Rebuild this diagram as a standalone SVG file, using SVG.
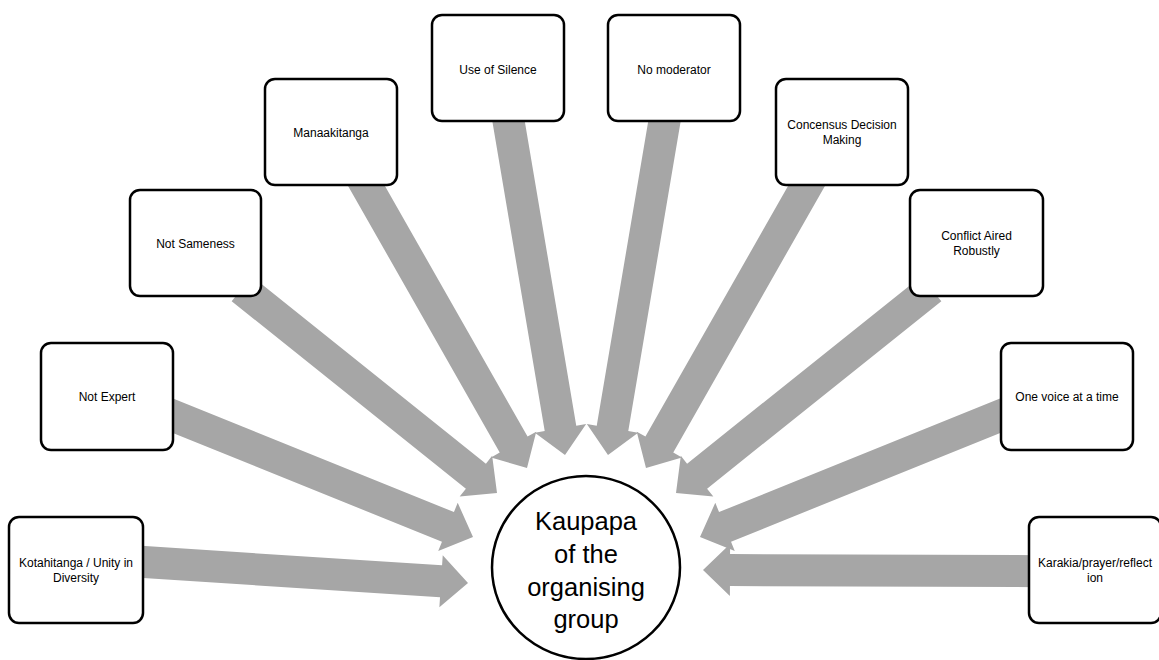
<svg xmlns="http://www.w3.org/2000/svg" width="1159" height="660" viewBox="0 0 1159 660">
<style>
.bg{fill:#ffffff}
.arrow{fill:#A6A6A6;stroke:none}
.box{fill:#ffffff;stroke:#000000;stroke-width:2.5}
.hub{fill:#ffffff;stroke:#000000;stroke-width:2.5}
.lbl{font-family:"Liberation Sans",Arial,sans-serif;font-size:12px;fill:#000000;text-anchor:middle}
.hubtxt{font-family:"Liberation Sans",Arial,sans-serif;font-size:25.5px;fill:#000000;text-anchor:middle}
</style>
<rect class="bg" x="0" y="0" width="1159" height="660"/>
<g id="connectors">
<polygon class="arrow" transform="translate(468,583) rotate(3.7)" points="-336,-16 -27,-16 -27,-26 0,0 -27,26 -27,16 -336,16"/>
<polygon class="arrow" transform="translate(473,537) rotate(22)" points="-334,-16 -27,-16 -27,-26 0,0 -27,26 -27,16 -334,16"/>
<polygon class="arrow" transform="translate(497,493) rotate(38.66)" points="-327,-16 -27,-16 -27,-26 0,0 -27,26 -27,16 -327,16"/>
<polygon class="arrow" transform="translate(527,468) rotate(60.36)" points="-336,-16 -27,-16 -27,-26 0,0 -27,26 -27,16 -336,16"/>
<polygon class="arrow" transform="translate(565,455) rotate(80.4)" points="-349,-16 -27,-16 -27,-26 0,0 -27,26 -27,16 -349,16"/>
<polygon class="arrow" transform="translate(608,455) rotate(99.6)" points="-349,-16 -27,-16 -27,-26 0,0 -27,26 -27,16 -349,16"/>
<polygon class="arrow" transform="translate(646,468) rotate(119.64)" points="-336,-16 -27,-16 -27,-26 0,0 -27,26 -27,16 -336,16"/>
<polygon class="arrow" transform="translate(676,493) rotate(141.34)" points="-327,-16 -27,-16 -27,-26 0,0 -27,26 -27,16 -327,16"/>
<polygon class="arrow" transform="translate(700,537) rotate(158)" points="-334,-16 -27,-16 -27,-26 0,0 -27,26 -27,16 -334,16"/>
<polygon class="arrow" transform="translate(703,570) rotate(180.2)" points="-336,-16 -27,-16 -27,-26 0,0 -27,26 -27,16 -336,16"/>
</g>
<g id="node-kotahitanga">
<rect class="box" x="9" y="517" width="134" height="106" rx="10"/>
<text class="lbl" x="76" y="567">Kotahitanga / Unity in</text>
<text class="lbl" x="76" y="582">Diversity</text>
</g>
<g id="node-not-expert">
<rect class="box" x="41" y="343" width="132" height="107" rx="10"/>
<text class="lbl" x="107" y="401">Not Expert</text>
</g>
<g id="node-not-sameness">
<rect class="box" x="130" y="190" width="131" height="106" rx="10"/>
<text class="lbl" x="195.5" y="248">Not Sameness</text>
</g>
<g id="node-manaakitanga">
<rect class="box" x="265" y="79" width="132" height="106" rx="10"/>
<text class="lbl" x="331" y="137">Manaakitanga</text>
</g>
<g id="node-silence">
<rect class="box" x="432" y="15" width="132" height="106" rx="10"/>
<text class="lbl" x="498" y="74">Use of Silence</text>
</g>
<g id="node-no-moderator">
<rect class="box" x="608" y="15" width="132" height="106" rx="10"/>
<text class="lbl" x="674" y="74">No moderator</text>
</g>
<g id="node-concensus">
<rect class="box" x="776" y="79" width="132" height="106" rx="10"/>
<text class="lbl" x="842" y="129">Concensus Decision</text>
<text class="lbl" x="842" y="144">Making</text>
</g>
<g id="node-conflict">
<rect class="box" x="910" y="190" width="133" height="106" rx="10"/>
<text class="lbl" x="976.5" y="240">Conflict Aired</text>
<text class="lbl" x="976.5" y="255">Robustly</text>
</g>
<g id="node-one-voice">
<rect class="box" x="1001" y="343" width="132" height="107" rx="10"/>
<text class="lbl" x="1067" y="401">One voice at a time</text>
</g>
<g id="node-karakia">
<rect class="box" x="1029" y="517" width="132" height="106" rx="10"/>
<text class="lbl" x="1095" y="567">Karakia/prayer/reflect</text>
<text class="lbl" x="1095" y="582">ion</text>
</g>
<g id="node-kaupapa">
<ellipse class="hub" cx="586" cy="567.5" rx="94" ry="91.5"/>
<text class="hubtxt" x="586" y="530">Kaupapa</text>
<text class="hubtxt" x="586" y="563">of the</text>
<text class="hubtxt" x="586" y="596">organising</text>
<text class="hubtxt" x="586" y="628">group</text>
</g>
</svg>
